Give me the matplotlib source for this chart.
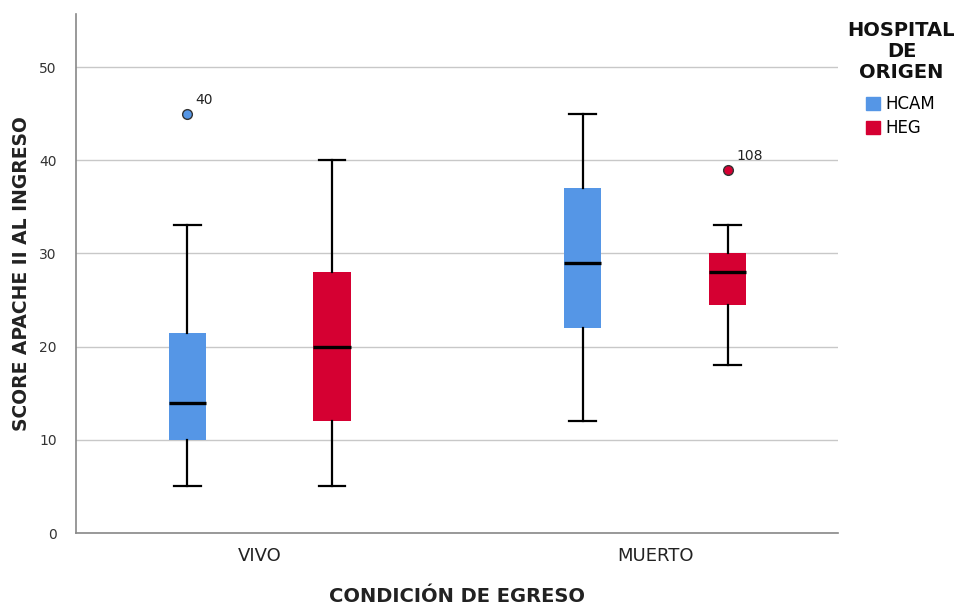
import matplotlib
matplotlib.use("Agg")
import matplotlib.pyplot as plt
from matplotlib.patches import Patch

# Data
categories = ["VIVO", "MUERTO"]
hospitals = ["HCAM", "HEG"]
colors = ["#5596E6", "#D50032"]

# per hospital, per category: whislo, q1, med, q3, whishi
whislo = [[5, 12], [5, 18]]
q1 = [[10, 22], [12, 24.5]]
med = [[14, 29], [20, 28]]
q3 = [[21.5, 37], [28, 30]]
whishi = [[33, 45], [40, 33]]
outliers = [[[45], []], [[], [39]]]
outlier_ids = [[["40"], []], [[], ["108"]]]

fig = plt.figure(figsize=(9.59, 6.05), dpi=100)
ax = fig.add_axes([0.0793, 0.119, 0.795, 0.858])

offsets = [-0.183, 0.183]
width = 0.094
for h, hosp in enumerate(hospitals):
    for c, cat in enumerate(categories):
        pos = c + offsets[h]
        stats = [{
            "whislo": whislo[h][c], "q1": q1[h][c], "med": med[h][c],
            "q3": q3[h][c], "whishi": whishi[h][c], "fliers": outliers[h][c],
        }]
        ax.bxp(
            stats, positions=[pos], widths=width, patch_artist=True,
            showfliers=True, capwidths=0.068,
            boxprops=dict(facecolor=colors[h], edgecolor=colors[h], linewidth=0),
            medianprops=dict(color="black", linewidth=2.4),
            whiskerprops=dict(color="black", linewidth=1.6),
            capprops=dict(color="black", linewidth=1.6),
            flierprops=dict(marker="o", markerfacecolor=colors[h],
                            markeredgecolor="#333333", markersize=7,
                            markeredgewidth=1),
        )
        for val, lab in zip(outliers[h][c], outlier_ids[h][c]):
            ax.annotate(lab, (pos, val), xytext=(6, 5), textcoords="offset points",
                        fontsize=10, color="#222222", ha="left", va="bottom")

ax.set_xlim(-0.464, 1.463)
ax.set_ylim(0, 55.7)
ax.set_yticks([0, 10, 20, 30, 40, 50])
ax.set_xticks([0, 1])
ax.set_xticklabels(categories, fontsize=13, color="#222222")
ax.tick_params(axis="y", length=0, pad=14, labelsize=10, labelcolor="#333333")
ax.tick_params(axis="x", length=0, pad=10)
ax.yaxis.grid(True, color="#c8c8c8", linewidth=1)
ax.set_axisbelow(True)
for s in ["top", "right"]:
    ax.spines[s].set_visible(False)
for s in ["left", "bottom"]:
    ax.spines[s].set_color("#888888")
    ax.spines[s].set_linewidth(1.2)

ax.set_ylabel("SCORE APACHE II AL INGRESO", fontsize=13.5, fontweight="bold",
              color="#222222", labelpad=6)
ax.set_xlabel("CONDICIÓN DE EGRESO", fontsize=14, fontweight="bold",
              color="#222222", labelpad=16)

# legend title drawn separately so it can be centred
fig.text(0.94, 0.965, "HOSPITAL\nDE\nORIGEN", ha="center", va="top",
         fontsize=14, fontweight="bold", color="#111111", linespacing=1.12,
         multialignment="center")
handles = [Patch(facecolor=col, edgecolor=col) for col in colors]
leg = fig.legend(handles, hospitals, loc="upper left",
                 bbox_to_anchor=(0.903, 0.843), frameon=False, fontsize=12,
                 borderpad=0, borderaxespad=0,
                 handlelength=0.85, handleheight=0.85, handletextpad=0.3,
                 labelspacing=0.38)

fig.savefig("out.png", dpi=100)
